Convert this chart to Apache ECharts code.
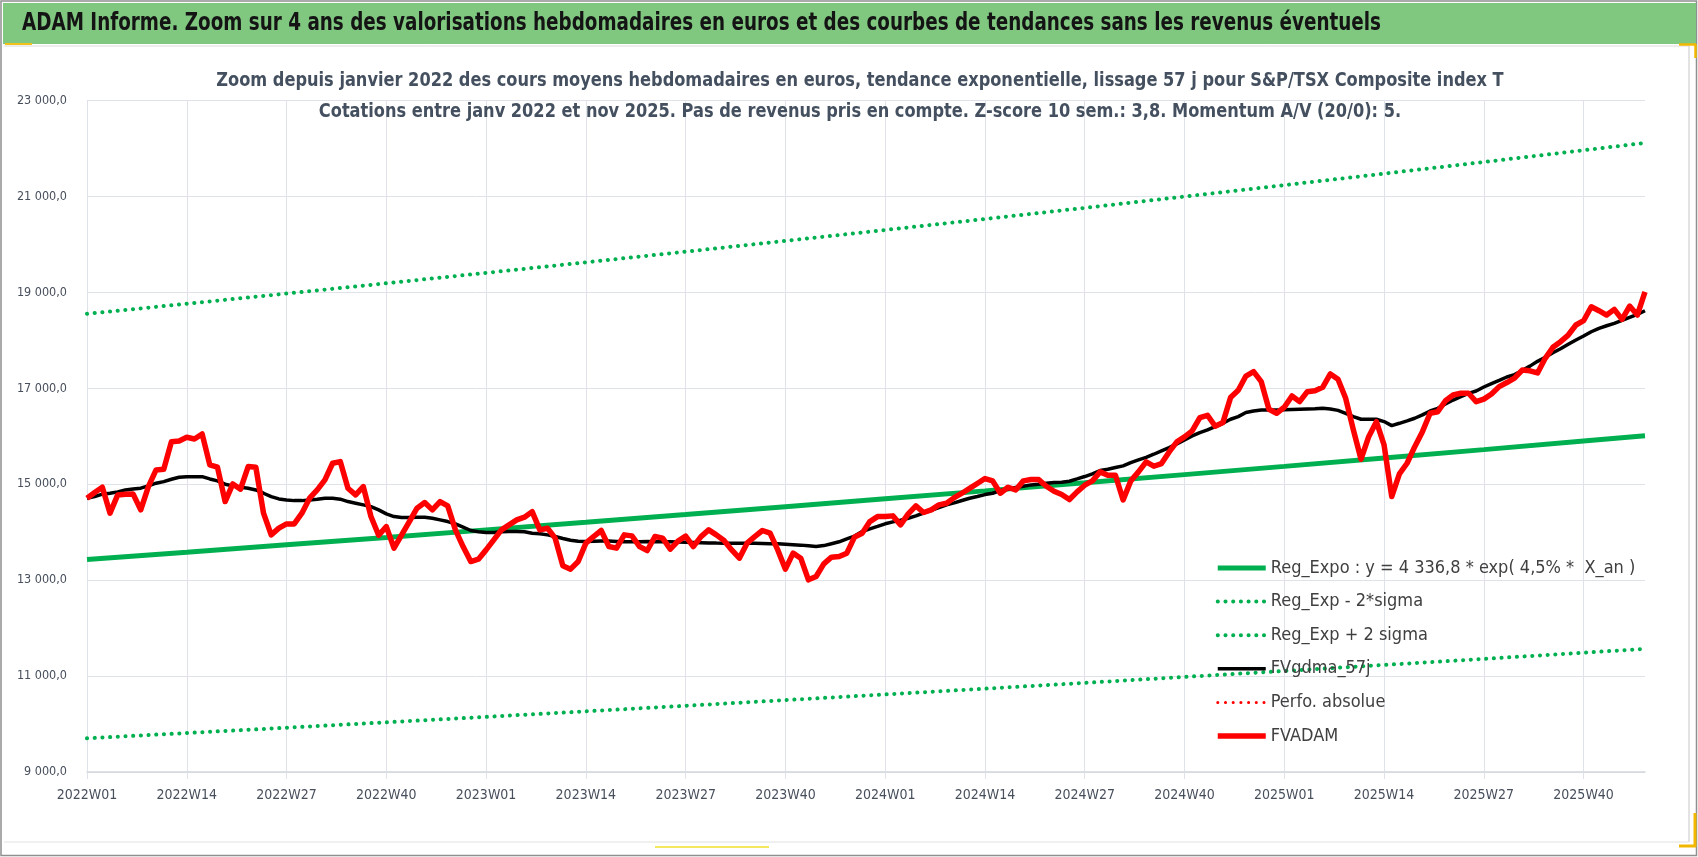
<!DOCTYPE html>
<html>
<head>
<meta charset="utf-8">
<title>ADAM Informe - S&amp;P/TSX Composite index T</title>
<script src="https://cdn.jsdelivr.net/npm/echarts@6/dist/echarts.min.js"></script>
<style>
    html, body { margin: 0; padding: 0; background: #ffffff; }
    #chart { width: 1698px; height: 857px; }
</style>
</head>
<body>
<div id="chart"></div>
<script>
// Weeks shown on the x axis: 2022W01 .. 2025W48
var years = [2022, 2023, 2024, 2025];
var weeksPerYear = [52, 52, 52, 48];

// FVADAM : weekly average price in euros
var fvadam = [
    14708,14826,14937,14396,14777,14791,14798,14465,14951,15298,
    15312,15887,15902,15978,15943,16048,15402,15354,14638,15006,
    14896,15367,15354,14396,13944,14083,14173,14173,14396,14708,
    14881,15090,15437,15472,14917,14777,14951,14326,13935,14117,
    13667,13944,14221,14500,14617,14465,14638,14548,14048,13700,
    13388,13438,13631,13840,14048,14152,14256,14313,14429,14048,
    14083,13875,13298,13229,13388,13771,13909,14035,13700,13667,
    13944,13923,13700,13617,13909,13875,13646,13813,13917,13700,
    13908,14048,13944,13825,13631,13458,13771,13908,14035,13979,
    13631,13229,13563,13458,13007,13075,13340,13479,13492,13563,
    13896,13979,14221,14325,14325,14340,14152,14381,14548,14410,
    14465,14569,14604,14720,14812,14912,15014,15118,15069,14812,
    14937,14881,15069,15097,15097,14958,14854,14785,14680,14840,
    14979,15069,15257,15187,15187,14673,15069,15257,15465,15375,
    15430,15673,15882,15986,16111,16389,16437,16208,16285,16806,
    16960,17255,17346,17138,16562,16479,16604,16840,16721,16929,
    16950,17020,17298,17187,16791,16131,15521,15992,16304,15819,
    14742,15215,15437,15783,16096,16479,16512,16741,16860,16896,
    16896,16720,16775,16880,17035,17120,17210,17380,17365,17320,
    17625,17854,17972,18110,18319,18409,18700,18617,18527,18645,
    18437,18714,18527,19012
];

// FVgdma_57j : 57 day smoothing
var fvgdma = [
    14708,14742,14792,14812,14840,14881,14902,14917,14965,15021,
    15054,15104,15146,15158,15158,15158,15110,15069,15000,14965,
    14938,14917,14881,14812,14742,14694,14673,14658,14658,14673,
    14688,14708,14708,14688,14638,14604,14569,14533,14465,14381,
    14325,14304,14304,14311,14311,14290,14256,14221,14173,14104,
    14035,14007,13993,13993,14007,14014,14014,14007,13979,13965,
    13944,13910,13868,13833,13813,13806,13812,13818,13815,13808,
    13800,13798,13800,13805,13803,13800,13800,13795,13790,13785,
    13780,13775,13772,13770,13770,13770,13770,13768,13765,13760,
    13757,13750,13740,13730,13715,13700,13720,13760,13800,13860,
    13920,14013,14070,14120,14175,14215,14250,14290,14340,14400,
    14455,14510,14570,14610,14660,14708,14743,14784,14812,14868,
    14895,14930,14958,14986,15000,15021,15034,15041,15062,15110,
    15160,15215,15285,15312,15347,15382,15450,15507,15560,15625,
    15694,15763,15840,15924,16007,16076,16132,16201,16270,16354,
    16410,16495,16527,16547,16547,16547,16550,16560,16565,16570,
    16575,16582,16568,16540,16479,16410,16354,16354,16354,16306,
    16222,16270,16319,16375,16445,16527,16582,16672,16755,16825,
    16895,16944,17027,17097,17163,17235,17285,17370,17462,17562,
    17646,17742,17825,17917,18006,18089,18179,18250,18304,18354,
    18416,18479,18541,18617
];

// Trend curves, read at every 13th week and at the last week
var trendWeekIdx = [0, 13, 26, 39, 52, 65, 78, 91, 104, 117, 130, 143, 156, 169, 182, 195, 203];
var regExpo = [13430,13582,13736,13891,14048,14207,14368,14531,14695,14861,15029,15200,15372,15546,15721,15899,16009];
var regExpLow = [9703,9813,9924,10036,10150,10265,10381,10499,10617,10737,10858,10982,11106,11232,11358,11487,11567];
var regExpHigh = [18552,18762,18975,19189,19406,19626,19848,20073,20300,20529,20761,20997,21235,21475,21717,21963,22115];

// Y axis ticks
var yMin = 9000, yMax = 23000, yStep = 2000;

var legendNames = [
    'Reg_Expo : y = 4 336,8 * exp( 4,5% *  X_an )',
    'Reg_Exp - 2*sigma',
    'Reg_Exp + 2 sigma',
    'FVgdma_57j',
    'Perfo. absolue',
    'FVADAM'
];

var headText = 'ADAM Informe. Zoom sur 4 ans des valorisations hebdomadaires en euros et des courbes de tendances sans les revenus éventuels';
var subText1 = 'Zoom depuis janvier 2022 des cours moyens hebdomadaires en euros, tendance exponentielle, lissage 57 j pour S&P/TSX Composite index T';
var subText2 = 'Cotations entre janv 2022 et nov 2025. Pas de revenus pris en compte. Z-score 10 sem.: 3,8. Momentum A/V (20/0): 5.';

var narrowFont = "'Liberation Sans Narrow', 'DejaVu Sans Condensed', 'Noto Sans', sans-serif";
var axisTextColor = '#474f5c';
var gridColor = '#dfe2e8';

// Build the week labels
var weeks = [];
years.forEach(function(y, k) {
    for (var w = 1; w <= weeksPerYear[k]; w++) {
        weeks.push(y + 'W' + (w < 10 ? '0' + w : w));
    }
});

var pairs = function(values) {
    return trendWeekIdx.map(function(idx, k) { return [idx, values[k]]; });
};

// 23000 -> "23 000,0"
var formatFr = function(v) {
    var s = String(Math.round(v));
    return s.replace(/\B(?=(\d{3})+(?!\d))/g, ' ') + ',0';
};

var chartElement = document.getElementById('chart');
var chart = echarts.init(chartElement, null, { renderer: 'canvas' });

var dotted = [0.1, 7.6];

// simple frame pieces
var frameLine = function(x1, y1, x2, y2, color, width) {
    return { type: 'line', silent: true, z: -9,
             shape: { x1: x1, y1: y1, x2: x2, y2: y2 },
             style: { stroke: color, lineWidth: width } };
};

var options = {
    animation: false,
    backgroundColor: '#ffffff',
    textStyle: { fontFamily: narrowFont },

    // Frame, green heading band and the titles
    graphic: [
        { type: 'rect', silent: true, z: -10,
          shape: { x: 1, y: 1, width: 1695.5, height: 854.5 },
          style: { fill: 'none', stroke: '#8f8f8f', lineWidth: 1.5 } },
        { type: 'rect', silent: true, z: -9,
          shape: { x: 3, y: 3, width: 1693, height: 41 },
          style: { fill: '#80c880' } },
        frameLine(4, 46, 1689, 46, '#dcdcdc', 1),
        frameLine(1689, 46, 1689, 842, '#d0d0d0', 1.2),
        frameLine(4, 842, 1689, 842, '#e2e2e2', 1.2),
        frameLine(5, 44, 32, 44, '#f2c21b', 2),
        frameLine(1679, 44.5, 1696, 44.5, '#f2b800', 2.5),
        frameLine(1695.5, 44, 1695.5, 58, '#f2b800', 2.5),
        frameLine(1695, 813, 1695, 847, '#f2b800', 3),
        frameLine(1679, 846, 1696, 846, '#f2b800', 3),
        frameLine(655, 847, 769, 847, '#f3e860', 2),
        { type: 'text', silent: true, z: 10, x: 22, y: 24, scaleX: 0.85,
          style: { text: headText, fontFamily: narrowFont, fontSize: 24, fontWeight: 'bold',
                   fill: '#141414', verticalAlign: 'middle', align: 'left' } },
        { type: 'text', silent: true, z: 10, x: 860, y: 81, scaleX: 0.9,
          style: { text: subText1, fontFamily: narrowFont, fontSize: 20, fontWeight: 'bold',
                   fill: '#44505f', verticalAlign: 'middle', align: 'center' } },
        { type: 'text', silent: true, z: 10, x: 860, y: 112, scaleX: 0.9,
          style: { text: subText2, fontFamily: narrowFont, fontSize: 20, fontWeight: 'bold',
                   fill: '#44505f', verticalAlign: 'middle', align: 'center' } }
    ],

    legend: {
        orient: 'vertical',
        left: 1215,
        top: 558,
        padding: 0,
        itemWidth: 48,
        itemHeight: 14,
        itemGap: 13.6,
        data: legendNames,
        itemStyle: { opacity: 0 },
        lineStyle: { width: 'inherit' },
        textStyle: { fontFamily: narrowFont, fontSize: 18, color: '#404040', lineHeight: 20 }
    },

    grid: { left: 87, right: 53, top: 100.5, bottom: 85 },

    xAxis: {
        type: 'category',
        data: weeks,
        boundaryGap: false,
        axisLine: { show: true, lineStyle: { color: '#d3d6dc', width: 1.5 } },
        axisTick: { show: true, interval: 12, length: 7, lineStyle: { color: gridColor } },
        axisLabel: {
            interval: 12, margin: 16,
            fontFamily: narrowFont, fontSize: 14, color: axisTextColor
        },
        splitLine: { show: true, interval: 12, lineStyle: { color: gridColor, width: 1 } }
    },

    yAxis: {
        type: 'value',
        min: yMin, max: yMax, interval: yStep,
        axisLine: { show: false },
        axisTick: { show: false },
        axisLabel: {
            margin: 20,
            fontFamily: narrowFont, fontSize: 12.5, color: axisTextColor,
            formatter: formatFr
        },
        splitLine: { lineStyle: { color: gridColor, width: 1 } }
    },

    series: [
        {
            name: legendNames[0], type: 'line', symbol: 'none', z: 2,
            data: pairs(regExpo),
            lineStyle: { color: '#00b050', width: 5 },
            itemStyle: { color: '#00b050' }
        },
        {
            name: legendNames[1], type: 'line', symbol: 'none', z: 2,
            data: pairs(regExpLow),
            lineStyle: { color: '#00b050', width: 4, type: dotted, cap: 'round' },
            itemStyle: { color: '#00b050' }
        },
        {
            name: legendNames[2], type: 'line', symbol: 'none', z: 2,
            data: pairs(regExpHigh),
            lineStyle: { color: '#00b050', width: 4, type: dotted, cap: 'round' },
            itemStyle: { color: '#00b050' }
        },
        {
            name: legendNames[3], type: 'line', symbol: 'none', z: 3,
            data: fvgdma,
            lineStyle: { color: '#000000', width: 3.5 },
            itemStyle: { color: '#000000' }
        },
        {
            name: legendNames[4], type: 'line', symbol: 'none', z: 3,
            data: [],
            lineStyle: { color: '#ff0000', width: 3, type: dotted, cap: 'round' },
            itemStyle: { color: '#ff0000' }
        },
        {
            name: legendNames[5], type: 'line', symbol: 'none', z: 4,
            data: fvadam,
            lineStyle: { color: '#ff0000', width: 5.5, join: 'round' },
            itemStyle: { color: '#ff0000' }
        }
    ]
};

chart.setOption(options);

window.addEventListener('resize', function() {
    chart.resize();
});
</script>
</body>
</html>
